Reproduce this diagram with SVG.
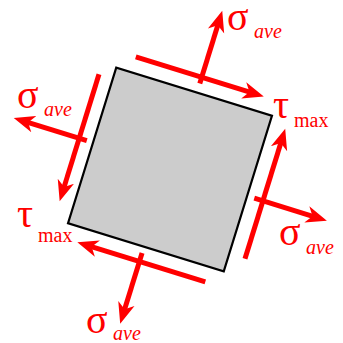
<svg xmlns="http://www.w3.org/2000/svg" width="343" height="343" viewBox="0 0 343 343">
<style>
.arr{stroke:#ff0000;stroke-width:5;fill:none;marker-end:url(#ah)}
.sym{font-family:"Liberation Serif","Times New Roman",serif;font-size:40px;fill:#ff0000}
.subi{font-family:"Liberation Serif","Times New Roman",serif;font-size:20px;font-style:italic;fill:#ff0000}
.subr{font-family:"Liberation Serif","Times New Roman",serif;font-size:20px;fill:#ff0000}
</style>
<defs>
<marker id="ah" markerUnits="userSpaceOnUse" markerWidth="24" markerHeight="20" viewBox="0 -10 24 20" refX="8" refY="0" orient="auto">
<path d="M21,0 L0,-8.5 L6,0 L0,8.5 Z" fill="#ff0000"/>
</marker>
</defs>
<g transform="translate(170,169.5) rotate(17.2)">
<g id="element">
<rect x="-81.5" y="-81.5" width="163" height="163" fill="#cccccc" stroke="#000000" stroke-width="2.2"/>
</g>
<g id="connectors">
<line class="arr" x1="-66" y1="-97.5" x2="55" y2="-97.5"/>
<line class="arr" x1="3" y1="-91" x2="3" y2="-154"/>
<line class="arr" x1="-96" y1="-70" x2="-96" y2="50"/>
<line class="arr" x1="-88" y1="-3" x2="-151.5" y2="-3"/>
<line class="arr" x1="98" y1="63" x2="98" y2="-60"/>
<line class="arr" x1="89" y1="2.5" x2="152" y2="2.5"/>
<line class="arr" x1="67" y1="97" x2="-54" y2="97"/>
<line class="arr" x1="-2" y1="88" x2="-2" y2="149"/>
</g>
</g>
<g id="label-sigma-top"><text class="sym" x="227" y="30">σ</text><text class="subi" x="254" y="38">ave</text></g>
<g id="label-sigma-left"><text class="sym" x="17" y="108">σ</text><text class="subi" x="44" y="116">ave</text></g>
<g id="label-sigma-right"><text class="sym" x="279" y="245">σ</text><text class="subi" x="306" y="254">ave</text></g>
<g id="label-sigma-bottom"><text class="sym" x="86" y="333">σ</text><text class="subi" x="113" y="340">ave</text></g>
<g id="label-tau-top"><text class="sym" x="273" y="118">τ</text><text class="subr" x="294" y="127">max</text></g>
<g id="label-tau-bottom"><text class="sym" x="17" y="226.5">τ</text><text class="subr" x="38" y="242">max</text></g>
</svg>
